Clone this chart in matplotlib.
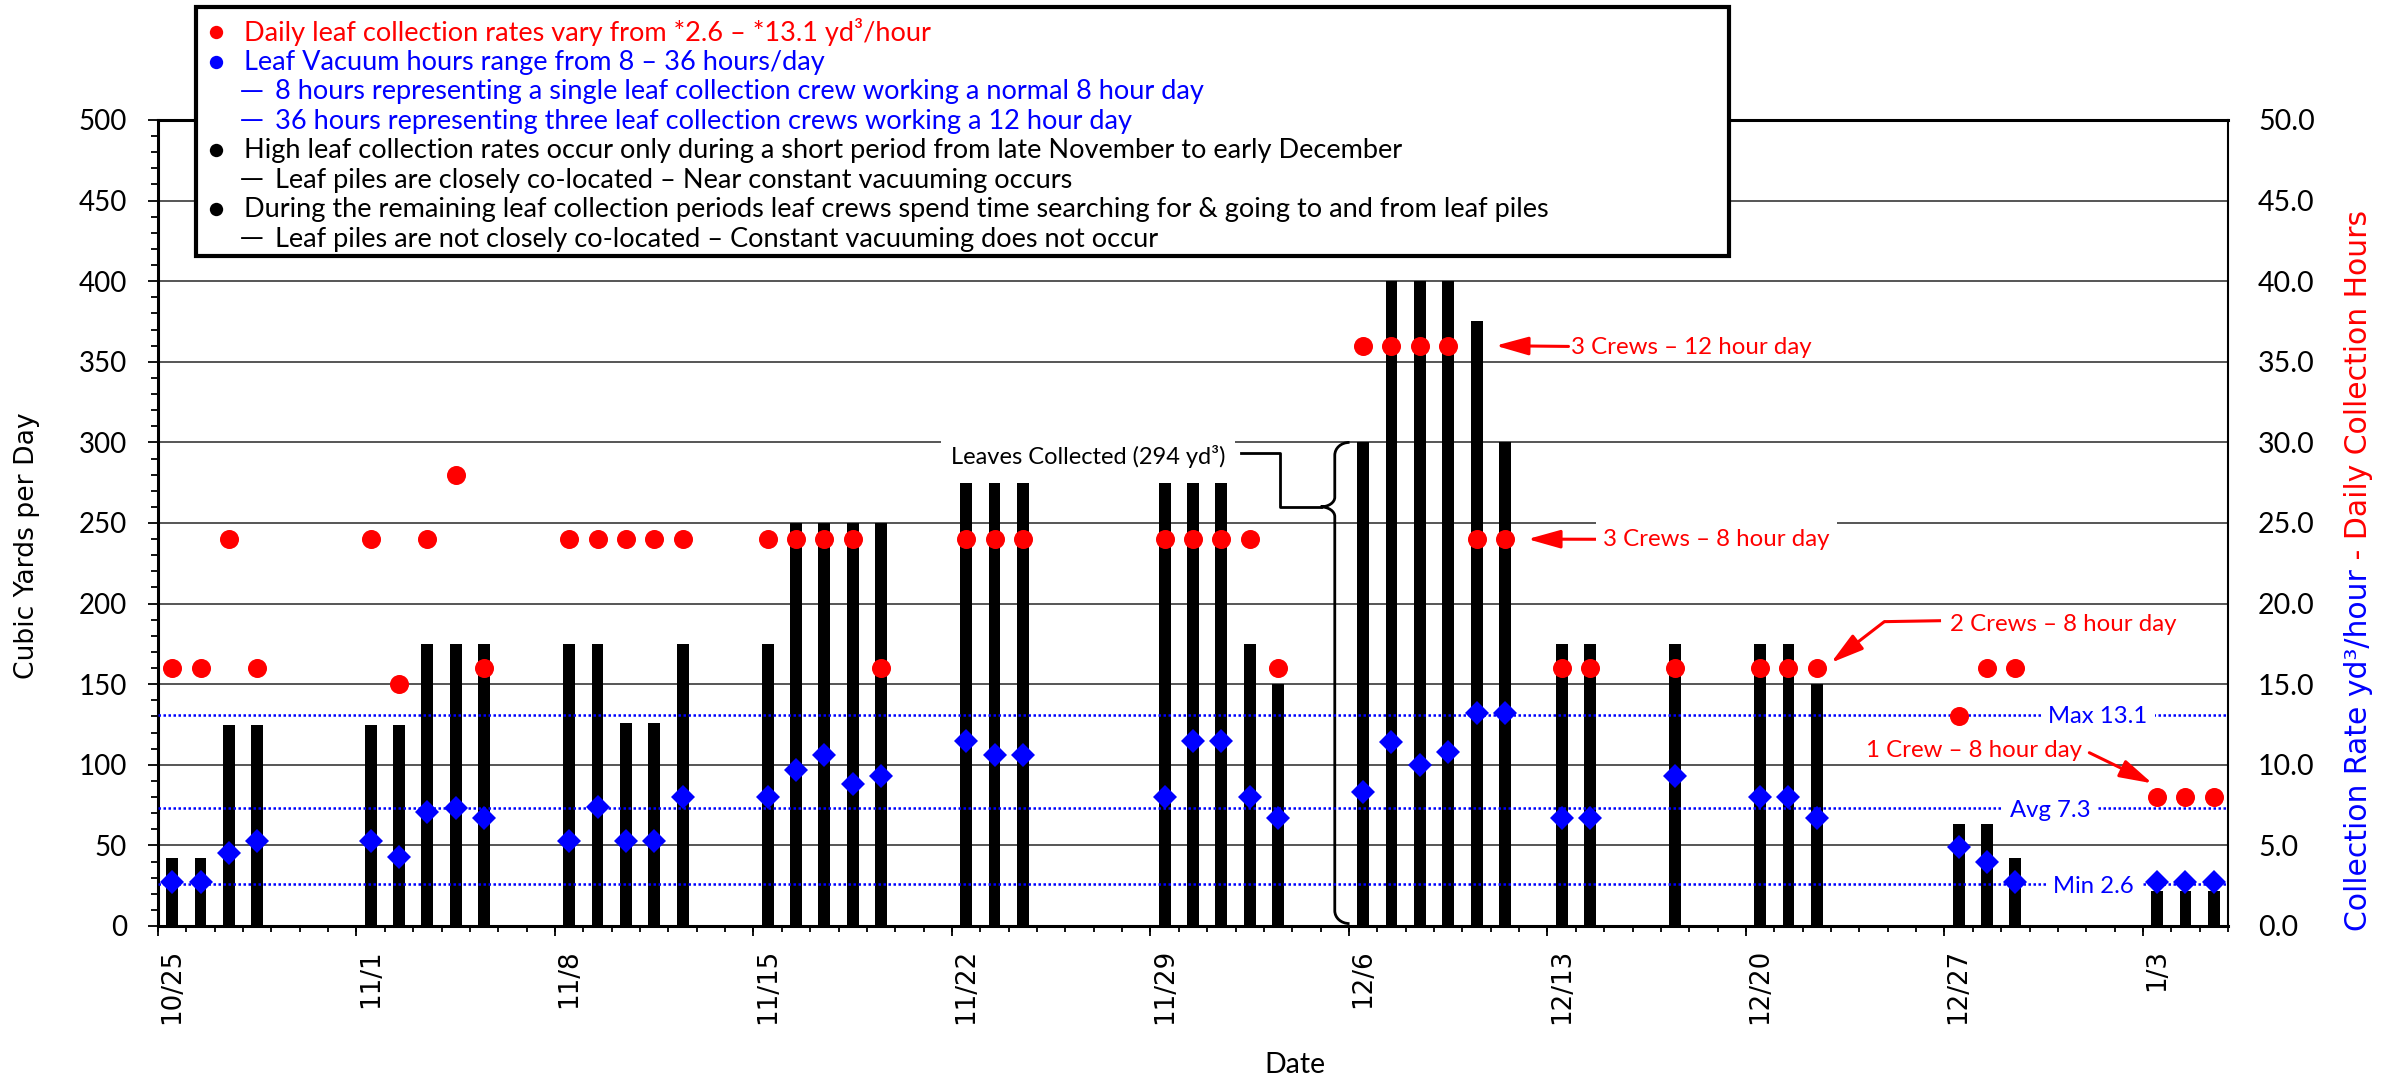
import numpy as np
import pandas as pd
import matplotlib
matplotlib.use('Agg')
import matplotlib.pyplot as plt
from matplotlib.path import Path
from matplotlib.patches import PathPatch, Rectangle
from matplotlib.lines import Line2D
from matplotlib.ticker import FormatStrFormatter

plt.rcParams['font.family'] = ['Lato', 'DejaVu Sans']

W, H = 2394, 1078
RED = '#FF0000'
BLUE = '#0000FF'

# ---- data -------------------------------------------------------------
season_start = '2021-10-25'
n_days = 73  # 10/25 .. 1/5

dates = ['2021-10-25', '2021-10-26', '2021-10-27', '2021-10-28',
         '2021-11-01', '2021-11-02', '2021-11-03', '2021-11-04', '2021-11-05',
         '2021-11-08', '2021-11-09', '2021-11-10', '2021-11-11', '2021-11-12',
         '2021-11-15', '2021-11-16', '2021-11-17', '2021-11-18', '2021-11-19',
         '2021-11-22', '2021-11-23', '2021-11-24',
         '2021-11-29', '2021-11-30', '2021-12-01', '2021-12-02', '2021-12-03',
         '2021-12-06', '2021-12-07', '2021-12-08', '2021-12-09', '2021-12-10', '2021-12-11',
         '2021-12-13', '2021-12-14',
         '2021-12-17',
         '2021-12-20', '2021-12-21', '2021-12-22',
         '2021-12-27', '2021-12-28', '2021-12-29',
         '2022-01-03', '2022-01-04', '2022-01-05']

cubic_yards = [42, 42, 125, 125,
               125, 125, 175, 175, 175,
               175, 175, 126, 126, 175,
               175, 250, 250, 250, 250,
               275, 275, 275,
               275, 275, 275, 175, 150,
               300, 400, 400, 400, 375, 300,
               175, 175,
               175,
               175, 175, 150,
               63, 63, 42,
               22, 22, 22]

collection_hours = [16, 16, 24, 16,
                    24, 15, 24, 28, 16,
                    24, 24, 24, 24, 24,
                    24, 24, 24, 24, 16,
                    24, 24, 24,
                    24, 24, 24, 24, 16,
                    36, 36, 36, 36, 24, 24,
                    16, 16,
                    16,
                    16, 16, 16,
                    13, 16, 16,
                    8, 8, 8]

collection_rate = [2.7, 2.7, 4.5, 5.3,
                   5.3, 4.3, 7.1, 7.3, 6.7,
                   5.3, 7.4, 5.3, 5.3, 8.0,
                   8.0, 9.7, 10.6, 8.8, 9.3,
                   11.5, 10.6, 10.6,
                   8.0, 11.5, 11.5, 8.0, 6.7,
                   8.3, 11.4, 10.0, 10.8, 13.2, 13.2,
                   6.7, 6.7,
                   9.3,
                   8.0, 8.0, 6.7,
                   4.9, 4.0, 2.7,
                   2.7, 2.7, 2.7]

rate_max, rate_avg, rate_min = 13.1, 7.3, 2.6

legend_lines = [
    ('dot', 'Daily leaf collection rates vary from *2.6 – *13.1 yd³/hour', RED),
    ('dot', 'Leaf Vacuum hours range from 8 – 36 hours/day', BLUE),
    ('dash', '8 hours representing a single leaf collection crew working a normal 8 hour day', BLUE),
    ('dash', '36 hours representing three leaf collection crews working a 12 hour day', BLUE),
    ('dot', 'High leaf collection rates occur only during a short period from late November to early December', 'black'),
    ('dash', 'Leaf piles are closely co-located – Near constant vacuuming occurs', 'black'),
    ('dot', 'During the remaining leaf collection periods leaf crews spend time searching for & going to and from leaf piles', 'black'),
    ('dash', 'Leaf piles are not closely co-located – Constant vacuuming does not occur', 'black'),
]


def fx(px):
    return px / W


def fy(py):
    return 1 - py / H


start = pd.Timestamp(season_start)
x = np.asarray((pd.to_datetime(dates) - start).days)
all_days = pd.date_range(start, periods=n_days)

fig = plt.figure(figsize=(W / 100, H / 100), dpi=100)
ax = fig.add_axes([fx(158), fy(926), (2228 - 158) / W, (926 - 120) / H])

ax.bar(x, cubic_yards, width=0.42, color='black', zorder=2)

# x axis: labels at category centres, tick marks at day boundaries
ax.set_xlim(-0.5, n_days - 0.5)
week_idx = np.arange(0, n_days, 7)
ax.set_xticks(week_idx)
ax.set_xticklabels([f'{d.month}/{d.day}' for d in all_days[week_idx]],
                   rotation=90, family='DejaVu Sans', fontsize=18.8)
ax.set_xticks(np.arange(n_days + 1) - 0.5, minor=True)
ax.tick_params(axis='x', which='major', length=0, pad=16.5)
ax.tick_params(axis='x', which='minor', length=4.5, width=1.3)
sec = ax.secondary_xaxis('bottom')
sec.set_xticks(np.arange(0, n_days + 1, 7) - 0.5)
sec.tick_params(length=7.5, width=1.3, labelbottom=False)
sec.spines['bottom'].set_visible(False)

ax.set_ylim(0, 500)
ax.set_yticks(np.arange(0, 501, 50))
ax.set_yticks(np.arange(0, 501, 10), minor=True)
ax.tick_params(axis='y', which='major', length=7, width=1.3, pad=15.5, labelsize=20)
ax.tick_params(axis='y', which='minor', length=5, width=1.3)
ax.set_axisbelow(True)
ax.grid(axis='y', which='major', color='#383838', lw=1.2)
for s in ['top', 'left', 'bottom']:
    ax.spines[s].set_linewidth(2.2)
ax.spines['right'].set_linewidth(1.5)

ax.set_ylabel('Cubic Yards per Day', family='DejaVu Sans', fontsize=19.2, va='center')
ax.yaxis.set_label_coords((27 - 158) / 2070, (926 - 546) / 806)
ax.set_xlabel('Date', fontsize=20.5, va='center')
ax.xaxis.set_label_coords((1295 - 158) / 2070, (926 - 1065) / 806)

# right axis: hours and rates
ax2 = ax.twinx()
ax2.set_ylim(0, 50)
ax2.set_yticks(np.arange(0, 51, 5))
ax2.yaxis.set_major_formatter(FormatStrFormatter('%.1f'))
ax2.tick_params(axis='y', length=0, pad=21.5, labelsize=20.5)
for s in ax2.spines.values():
    s.set_visible(False)

for v in (rate_max, rate_avg, rate_min):
    ax2.axhline(v, color=BLUE, lw=1.8, ls=(0, (1, 1)), zorder=1)
ax2.plot(x, collection_rate, 'D', color=BLUE, ms=12.5, mew=0, zorder=3)
ax2.plot(x, collection_hours, 'o', color=RED, ms=13.7, mew=0, zorder=4)

wbox = dict(boxstyle='square,pad=0.3', fc='white', ec='none')
for label, v, xc in [('Max', rate_max, 67.91), ('Avg', rate_avg, 66.23), ('Min', rate_min, 67.75)]:
    ax2.text(xc, v, f'{label} {v}', color=BLUE, fontsize=17.2, ha='center',
             va='center_baseline', bbox=wbox, zorder=5)

# annotations
fs_ann = 17.3
arrow = dict(arrowstyle='-|>,head_length=1.0,head_width=0.28', color=RED, lw=2.2,
             mutation_scale=20, shrinkA=0, shrinkB=0)
ax.annotate('3 Crews – 12 hour day', xy=(46.67, 360), xytext=(49.34, 360), color=RED,
            fontsize=fs_ann, ha='left', va='center_baseline', arrowprops=arrow, zorder=5)
ax.annotate('3 Crews – 8 hour day', xy=(47.8, 240), xytext=(50.47, 241), color=RED,
            fontsize=fs_ann, ha='left', va='center_baseline', bbox=wbox, arrowprops=arrow, zorder=5)
ax.text(62.7, 188, '2 Crews – 8 hour day', color=RED, fontsize=fs_ann, ha='left',
        va='center_baseline', bbox=wbox, zorder=5)
ax.plot([62.38, 60.38], [189.4, 188.8], color=RED, lw=2.2, zorder=5, solid_capstyle='butt')
ax.annotate('', xy=(58.5, 163.3), xytext=(60.38, 188.8), arrowprops=arrow, zorder=5)
ax.text(59.74, 110.2, '1 Crew – 8 hour day', color=RED, fontsize=fs_ann, ha='left',
        va='center_baseline', zorder=5)
ax.annotate('', xy=(69.83, 88.5), xytext=(67.61, 107.5), arrowprops=arrow, zorder=5)

# brace for the leaves collected callout
bx, tip_x, end_x = 41.0, 40.5, 41.52
top, tip_y, bot = 300, 260, 1.5
brace = Path([(end_x, top), (41.22, top), (bx, top - 3.6), (bx, top - 8),
              (bx, tip_y + 6), (bx, tip_y + 2.7), (40.78, tip_y), (tip_x, tip_y),
              (40.78, tip_y), (bx, tip_y - 2.7), (bx, tip_y - 6),
              (bx, bot + 8), (bx, bot + 3.6), (41.22, bot), (end_x, bot)],
             [Path.MOVETO, Path.CURVE4, Path.CURVE4, Path.CURVE4,
              Path.LINETO, Path.CURVE4, Path.CURVE4, Path.CURVE4,
              Path.CURVE4, Path.CURVE4, Path.CURVE4,
              Path.LINETO, Path.CURVE4, Path.CURVE4, Path.CURVE4])
ax.add_patch(PathPatch(brace, fc='none', ec='black', lw=2, zorder=3))
ax.plot([37.7, 39.07, 39.07, tip_x], [293.3, 293.3, tip_y, tip_y], color='black', lw=2, zorder=3)
ax.text(32.3, 292.2, 'Leaves Collected (294 yd³)', fontsize=17.0, ha='center',
        va='center_baseline', bbox=dict(boxstyle='square,pad=0.4', fc='white', ec='none'), zorder=4)

# note box
fs_leg = 19.5
fig.add_artist(Rectangle((fx(196), fy(256)), fx(1729) - fx(196), fy(7) - fy(256),
                         transform=fig.transFigure, fc='white', ec='black', lw=3, zorder=5))
for k, (kind, txt, col) in enumerate(legend_lines):
    base = 40.7 + 29.4 * k
    if kind == 'dot':
        fig.add_artist(Line2D([fx(216)], [fy(base - 8.5)], marker='o', ms=9.6, mew=0, color=col,
                              transform=fig.transFigure, zorder=6))
        fig.text(fx(244), fy(base), txt, color=col, fontsize=fs_leg, va='baseline', zorder=6)
    else:
        fig.text(fx(240), fy(base - 1.5), '—', color=col, fontsize=17, family='DejaVu Sans',
                 va='baseline', zorder=6)
        fig.text(fx(275), fy(base), txt, color=col, fontsize=fs_leg, va='baseline', zorder=6)

# two-colour right axis title
renderer = fig.canvas.get_renderer()
t1 = fig.text(fx(2367), fy(931), 'Collection Rate yd³/hour', rotation=90, rotation_mode='anchor',
              ha='left', va='baseline', color=BLUE, family='DejaVu Sans', fontsize=21.5)
bb = t1.get_window_extent(renderer)
fig.text(fx(2367), bb.y1 / H, ' - Daily Collection Hours', rotation=90, rotation_mode='anchor',
         ha='left', va='baseline', color=RED, family='DejaVu Sans', fontsize=21.5)

fig.savefig('out.png', dpi=100)
